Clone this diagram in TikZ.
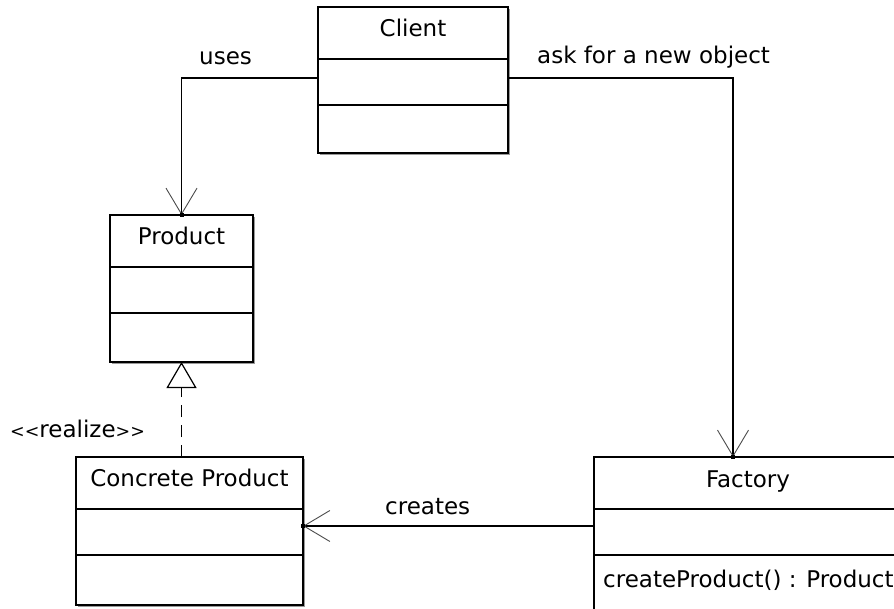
\documentclass[tikz,border=0pt]{standalone}
\usepackage{fontspec}
\setmainfont{DejaVu Sans}
\usepackage{graphicx}
\usetikzlibrary{arrows.meta,shadows}

\begin{document}
\begin{tikzpicture}[x=1pt,y=-1pt,
  umlfont/.style={font=\fontsize{23pt}{27pt}\selectfont, inner sep=0pt},
  classbox/.style={draw=black, line width=1.6pt, fill=white, anchor=north west,
    inner sep=0pt, outer sep=0pt,
    drop shadow={shadow xshift=2pt, shadow yshift=-2pt, fill=black!40, opacity=1}},
  divider/.style={draw=black, line width=1.5pt},
  classname/.style={umlfont, anchor=base},
  assoclbl/.style={umlfont, anchor=base west},
  assoc/.style={draw=black, line width=1.3pt,
    -{Straight Barb[length=26pt, width=31pt, line width=0.9pt, color=black!70]}},
  realize/.style={draw=black, line width=1.3pt, dash pattern=on 12pt off 8pt,
    -{Triangle[open, length=26pt, width=30pt, line width=1.2pt]}},
  tipdot/.style={fill=black}
]
% canvas
\clip (0,0) rectangle (894,609);
\fill[white] (0,0) rectangle (894,609);

% class boxes
\node[classbox, minimum width=190pt, minimum height=146pt] (client) at (318,7) {};
\node[classbox, minimum width=143pt, minimum height=147pt] (product) at (110,215) {};
\node[classbox, minimum width=227pt, minimum height=148pt] (concrete) at (76,457) {};
\node[classbox, minimum width=308pt, minimum height=170pt] (factory) at (594,457) {};

% compartments
\foreach \c/\w in {client/190, product/143, concrete/227, factory/308} {
  \draw[divider] ([yshift=-52pt]\c.north west) -- ([yshift=-52pt]\c.north east);
  \draw[divider] ([yshift=-98pt]\c.north west) -- ([yshift=-98pt]\c.north east);
}

% class names and operations
\node[classname] (client-name) at ([yshift=-30pt]client.north) {Client};
\node[classname] (product-name) at ([yshift=-30pt]product.north) {Product};
\node[classname] (concrete-name) at ([yshift=-29pt]concrete.north) {Concrete Product};
\node[classname] (factory-name) at ([yshift=-30pt]factory.north) {Factory};
\node[assoclbl] (factory-op) at ([xshift=9pt,yshift=-130pt]factory.north west) {createProduct() : Product};

% associations
\draw[assoc] ([yshift=-71pt]client.north west) -| (product.north);
\draw[assoc] ([yshift=-71pt]client.north east) -| ([xshift=139pt]factory.north west);
\draw[assoc] ([yshift=-69pt]factory.north west) -- ([yshift=-69pt]concrete.north east);
\fill[tipdot] ([xshift=-2pt,yshift=-2pt]product.north) rectangle ([xshift=2pt,yshift=2pt]product.north);
\fill[tipdot] ([xshift=137pt,yshift=-2pt]factory.north west) rectangle ([xshift=141pt,yshift=2pt]factory.north west);
\fill[tipdot] ([xshift=-2pt,yshift=-67pt]concrete.north east) rectangle ([xshift=2pt,yshift=-71pt]concrete.north east);

% realization
\draw[realize] (product.south |- concrete.north) -- (product.south);

% labels
\node[assoclbl] (uses-lbl) at (199,65) {uses};
\node[assoclbl] (ask-lbl) at (537,64) {ask for a new object};
\node[assoclbl] (creates-lbl) at (385,514) {creates};
\node[assoclbl] (realize-lbl) at (10,437) {\scalebox{0.76}{<{}<}realize\scalebox{0.76}{>{}>}};
\end{tikzpicture}
\end{document}
